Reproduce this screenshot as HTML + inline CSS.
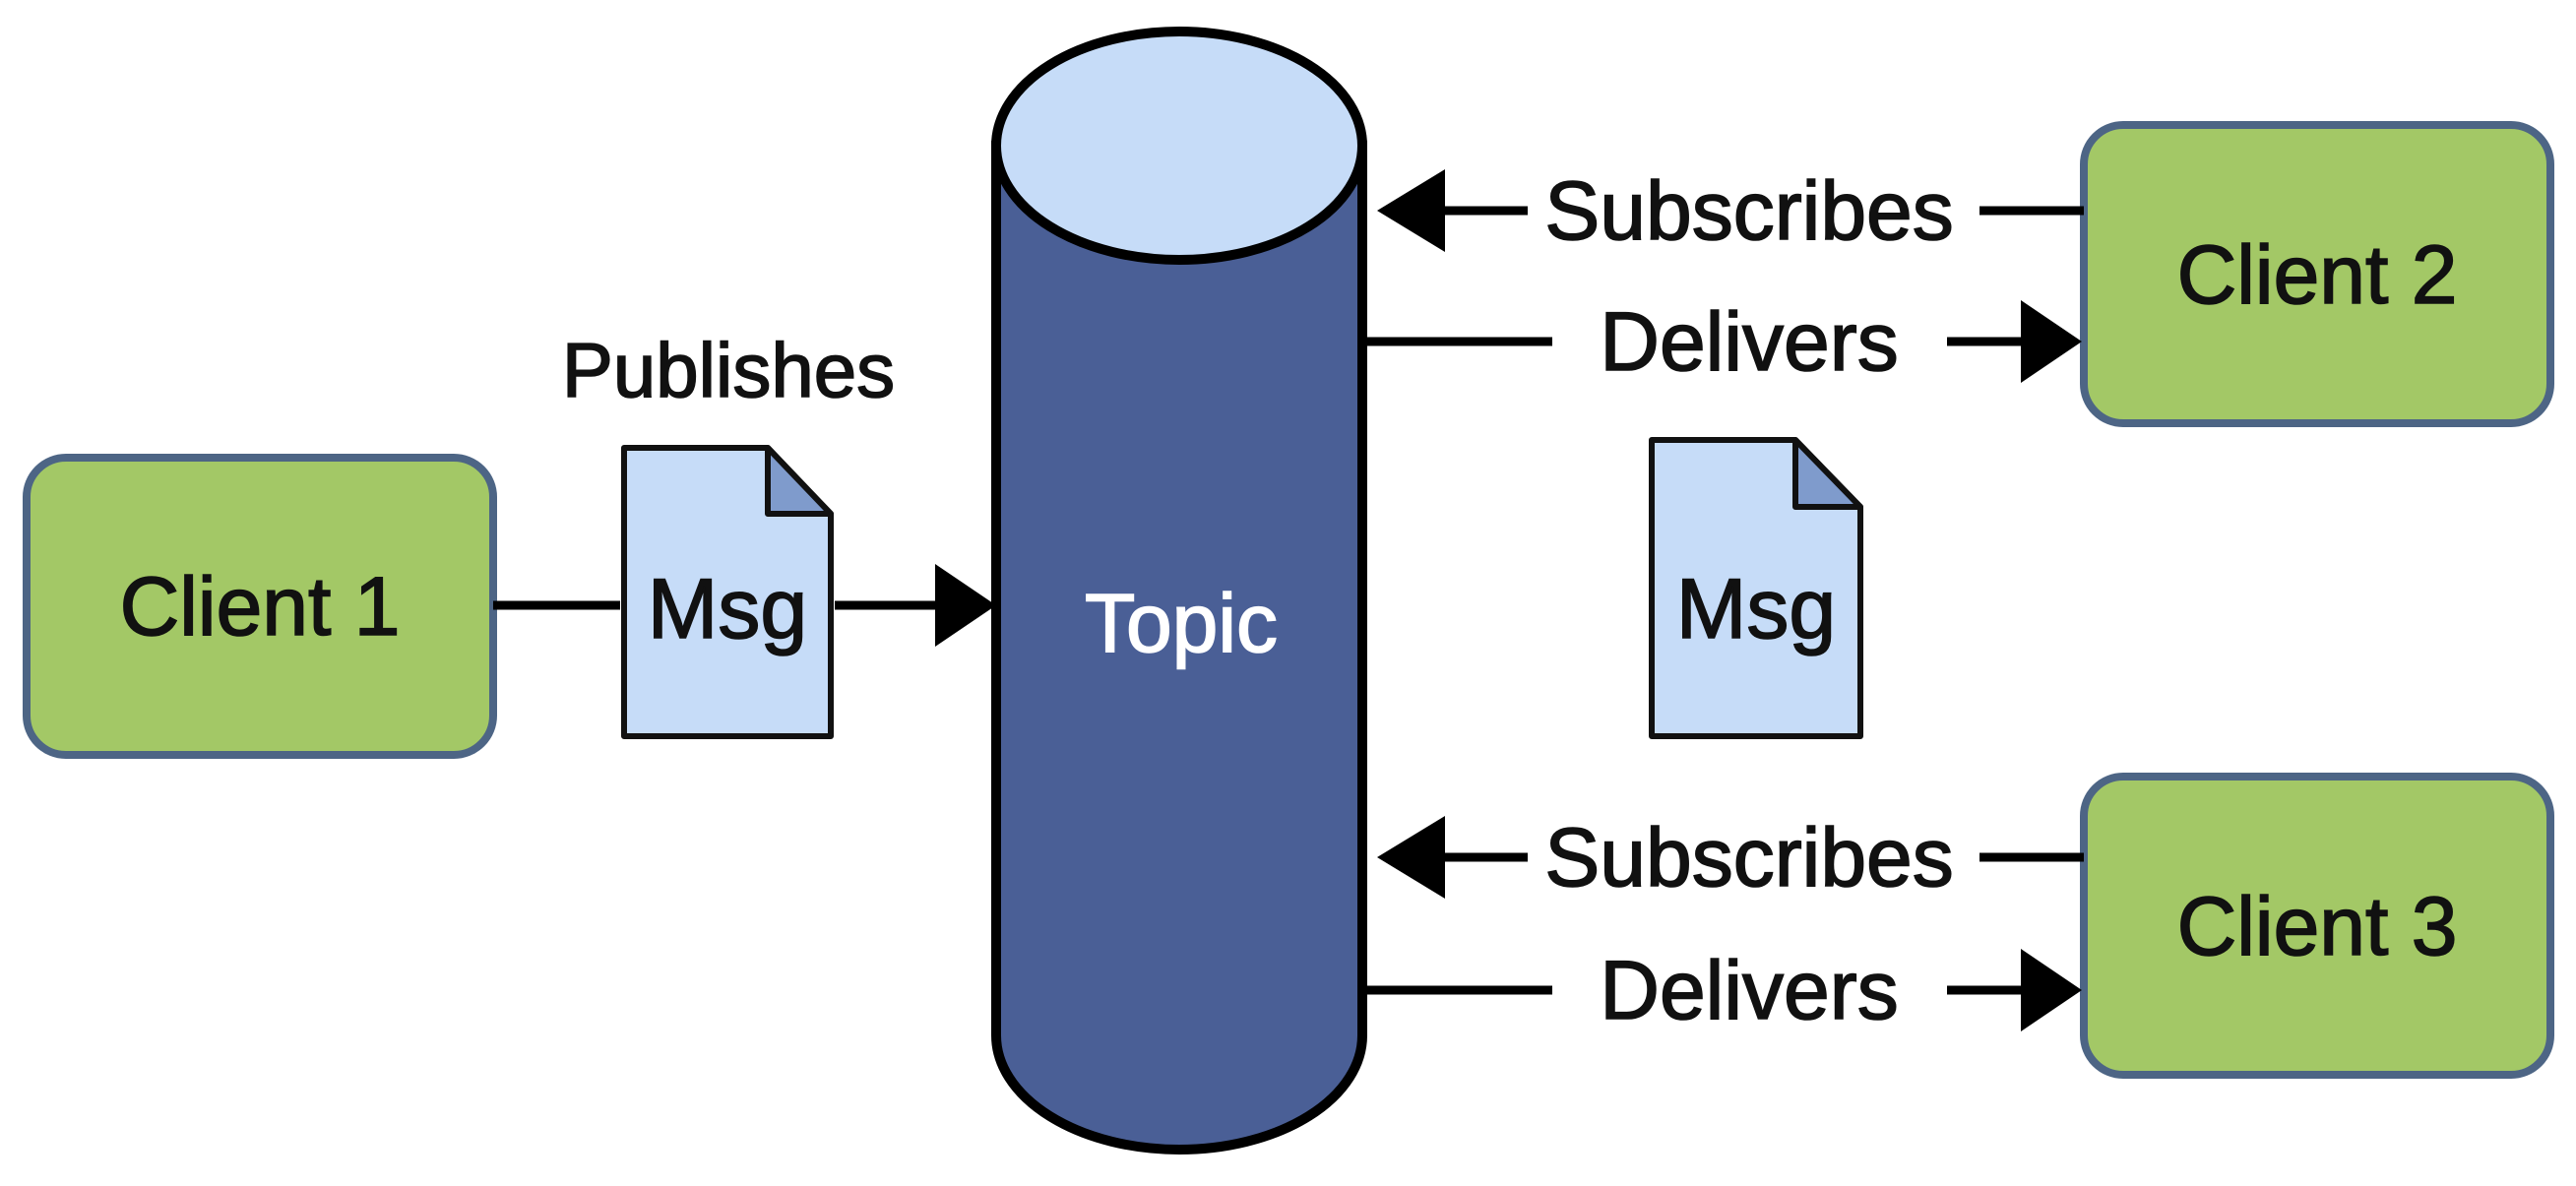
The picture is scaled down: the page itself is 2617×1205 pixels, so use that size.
<!DOCTYPE html>
<html><head><meta charset="utf-8"><style>
html,body{margin:0;padding:0;background:#fff;}
svg{display:block;}
text{font-family:"Liberation Sans",Arial,sans-serif;stroke-width:1.6;}
</style></head><body>
<svg width="2617" height="1205" viewBox="0 0 2617 1205" xmlns="http://www.w3.org/2000/svg">
<rect width="2617" height="1205" fill="#fff"/>
<rect x="27" y="465" width="474" height="302" rx="40" fill="#a3c866" stroke="#4d6585" stroke-width="8"/>
<text x="264" y="645" font-size="84" text-anchor="middle" fill="#111" stroke="#111">Client 1</text>
<line x1="501" y1="615" x2="630" y2="615" stroke="#000" stroke-width="9"/>
<line x1="848" y1="615" x2="955" y2="615" stroke="#000" stroke-width="9"/>
<polygon points="950,573 1012,615 950,657" fill="#000"/>
<text x="740" y="403" font-size="78" text-anchor="middle" fill="#111" stroke="#111">Publishes</text>
<path d="M634,455 L780,455 L844,522 L844,748 L634,748 Z" fill="#c6dcf8" stroke="#111" stroke-width="6" stroke-linejoin="round"/>
<path d="M780,455 L780,522 L844,522 Z" fill="#7f9bcc" stroke="#111" stroke-width="6" stroke-linejoin="round"/>
<text x="739" y="648" font-size="86" text-anchor="middle" fill="#111" stroke="#111">Msg</text>
<path d="M1012,148 L1012,1052 A186,116 0 0 0 1384,1052 L1384,148 Z" fill="#4a5f96" stroke="#000" stroke-width="10"/>
<ellipse cx="1198" cy="148" rx="186" ry="116" fill="#c6dcf8" stroke="#000" stroke-width="10"/>
<text x="1200" y="662" font-size="84" text-anchor="middle" fill="#fff" stroke="#fff" stroke-width="1">Topic</text>
<rect x="2117" y="127" width="474" height="303" rx="40" fill="#a3c866" stroke="#4d6585" stroke-width="8"/>
<text x="2354" y="308" font-size="84" text-anchor="middle" fill="#111" stroke="#111">Client 2</text>
<rect x="2117" y="789" width="474" height="303" rx="40" fill="#a3c866" stroke="#4d6585" stroke-width="8"/>
<text x="2354" y="970" font-size="84" text-anchor="middle" fill="#111" stroke="#111">Client 3</text>
<polygon points="1399,214 1468,172 1468,256" fill="#000"/>
<line x1="1460" y1="214" x2="1552" y2="214" stroke="#000" stroke-width="9"/>
<text x="1777" y="243" font-size="84" text-anchor="middle" fill="#111" stroke="#111">Subscribes</text>
<line x1="2011" y1="214" x2="2117" y2="214" stroke="#000" stroke-width="9"/>
<line x1="1386" y1="347" x2="1577" y2="347" stroke="#000" stroke-width="9"/>
<text x="1777" y="376" font-size="84" text-anchor="middle" fill="#111" stroke="#111">Delivers</text>
<line x1="1978" y1="347" x2="2060" y2="347" stroke="#000" stroke-width="9"/>
<polygon points="2053,305 2115,347 2053,389" fill="#000"/>
<path d="M1678,447 L1824,447 L1890,515 L1890,748 L1678,748 Z" fill="#c6dcf8" stroke="#111" stroke-width="6" stroke-linejoin="round"/>
<path d="M1824,447 L1824,515 L1890,515 Z" fill="#7f9bcc" stroke="#111" stroke-width="6" stroke-linejoin="round"/>
<text x="1784" y="648" font-size="86" text-anchor="middle" fill="#111" stroke="#111">Msg</text>
<polygon points="1399,871 1468,829 1468,913" fill="#000"/>
<line x1="1460" y1="871" x2="1552" y2="871" stroke="#000" stroke-width="9"/>
<text x="1777" y="900" font-size="84" text-anchor="middle" fill="#111" stroke="#111">Subscribes</text>
<line x1="2011" y1="871" x2="2117" y2="871" stroke="#000" stroke-width="9"/>
<line x1="1386" y1="1006" x2="1577" y2="1006" stroke="#000" stroke-width="9"/>
<text x="1777" y="1035" font-size="84" text-anchor="middle" fill="#111" stroke="#111">Delivers</text>
<line x1="1978" y1="1006" x2="2060" y2="1006" stroke="#000" stroke-width="9"/>
<polygon points="2053,964 2115,1006 2053,1048" fill="#000"/>
</svg>
</body></html>
